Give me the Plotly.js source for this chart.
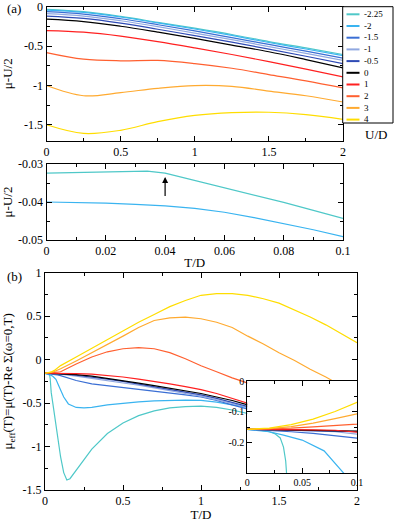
<!DOCTYPE html>
<html>
<head>
<meta charset="utf-8">
<script src="https://cdn.plot.ly/plotly-3.0.1.min.js"></script>
<style>
  html, body { margin: 0; padding: 0; background: #fff; }
  #chart { width: 399px; height: 522px; }
</style>
</head>
<body>
<div id="chart"></div>
<script>
// U/D values (legend) and their colours
var uLabels = ['-2.25', '-2', '-1.5', '-1', '-0.5', '0', '1', '2', '3', '4'];
var uColors = ['#4fc8c8', '#3ab4f0', '#3b6fd4', '#90a8e0', '#2f4bb5', '#000000', '#ff2020', '#ff6030', '#ffaa30', '#ffdd00'];

// panel (a) top: mu-U/2 vs T/D
var tA = [0, 0.25, 0.5, 0.75, 1.0, 1.25, 1.5, 1.75, 2.0];
var aUm225 = [-0.03, -0.06, -0.12, -0.195, -0.27, -0.35, -0.44, -0.52, -0.605];
var aUm2 = [-0.04, -0.068, -0.127, -0.203, -0.28, -0.362, -0.452, -0.535, -0.62];
var aUm15 = [-0.06, -0.09, -0.15, -0.225, -0.305, -0.39, -0.477, -0.563, -0.65];
var aUm1 = [-0.085, -0.115, -0.175, -0.25, -0.333, -0.415, -0.505, -0.59, -0.68];
var aUm05 = [-0.115, -0.145, -0.205, -0.283, -0.365, -0.447, -0.537, -0.627, -0.72];
var aU0 = [-0.155, -0.185, -0.245, -0.32, -0.40, -0.485, -0.57, -0.67, -0.775];
var aU1 = [-0.30, -0.32, -0.37, -0.44, -0.52, -0.605, -0.695, -0.79, -0.89];
var aU2 = [-0.58, -0.665, -0.685, -0.68, -0.72, -0.78, -0.86, -0.94, -1.03];
var aU3 = [-1.0, -1.13, -1.09, -1.035, -1.0, -1.01, -1.07, -1.13, -1.21];
var aU4 = [-1.5, -1.61, -1.57, -1.46, -1.38, -1.345, -1.34, -1.37, -1.43];

// panel (a) bottom: low T zoom for U/D = -2.25 and -2
var tB1 = [0, 0.01, 0.02, 0.03, 0.034, 0.04, 0.05, 0.06, 0.07, 0.08, 0.09, 0.1];
var bUm225 = [-0.0324, -0.0323, -0.0322, -0.032, -0.0319, -0.0324, -0.0343, -0.0362, -0.0381, -0.0401, -0.0422, -0.0443];
var tB2 = [0, 0.01, 0.02, 0.03, 0.04, 0.05, 0.06, 0.07, 0.08, 0.09, 0.1];
var bUm2 = [-0.04, -0.0401, -0.0403, -0.0406, -0.041, -0.0417, -0.0427, -0.0441, -0.0456, -0.0473, -0.0491];

// panel (b): mu_eff vs T/D
var tC = [0, 0.02, 0.04, 0.06, 0.08, 0.1, 0.2, 0.3, 0.4, 0.5, 0.6, 0.7, 0.8, 0.9, 1.0, 1.1, 1.2, 1.3, 1.4, 1.5, 1.6, 1.7, 1.8, 1.9, 2.0];
var cU4 = [-0.157, -0.153, -0.142, -0.124, -0.099, -0.069, 0.03, 0.13, 0.23, 0.33, 0.43, 0.52, 0.61, 0.68, 0.74, 0.76, 0.76, 0.74, 0.70, 0.65, 0.57, 0.49, 0.40, 0.30, 0.195];
var cU3 = [-0.157, -0.155, -0.148, -0.137, -0.122, -0.105, -0.015, 0.08, 0.17, 0.27, 0.37, 0.45, 0.48, 0.49, 0.47, 0.43, 0.37, 0.27, 0.18, 0.08, -0.01, -0.11, -0.20, -0.30, -0.39];
var cU2 = [-0.157, -0.156, -0.153, -0.149, -0.145, -0.14, -0.05, 0.03, 0.09, 0.125, 0.137, 0.125, 0.08, 0.01, -0.07, -0.14, -0.21, -0.27, -0.34, -0.41, -0.48, -0.54, -0.60, -0.66, -0.72];
var cU1 = [-0.157, -0.157, -0.158, -0.159, -0.16, -0.162, -0.162, -0.167, -0.18, -0.20, -0.225, -0.25, -0.28, -0.31, -0.345, -0.39, -0.445, -0.50, -0.56, -0.62, -0.67, -0.72, -0.77, -0.82, -0.87];
var cU0 = [-0.157, -0.158, -0.159, -0.16, -0.162, -0.163, -0.172, -0.19, -0.215, -0.24, -0.27, -0.30, -0.33, -0.36, -0.39, -0.43, -0.47, -0.52, -0.57, -0.62, -0.67, -0.72, -0.77, -0.82, -0.87];
var cUm05 = [-0.157, -0.158, -0.16, -0.161, -0.163, -0.165, -0.18, -0.20, -0.225, -0.25, -0.28, -0.31, -0.345, -0.375, -0.405, -0.445, -0.49, -0.535, -0.585, -0.635, -0.685, -0.735, -0.785, -0.835, -0.885];
var cUm1 = [-0.157, -0.158, -0.16, -0.162, -0.165, -0.168, -0.19, -0.215, -0.24, -0.265, -0.295, -0.325, -0.36, -0.39, -0.42, -0.46, -0.505, -0.55, -0.60, -0.65, -0.70, -0.75, -0.80, -0.85, -0.90];
var cUm15 = [-0.157, -0.16, -0.165, -0.17, -0.177, -0.184, -0.24, -0.28, -0.30, -0.32, -0.34, -0.36, -0.38, -0.405, -0.43, -0.47, -0.52, -0.57, -0.62, -0.67, -0.72, -0.77, -0.82, -0.87, -0.92];
var tD = [0, 0.02, 0.033, 0.05, 0.07, 0.088, 0.1, 0.12, 0.15, 0.2, 0.25, 0.3, 0.4, 0.5, 0.6, 0.7, 0.8, 0.9, 1.0, 1.1, 1.2, 1.3, 1.6, 2.0];
var cUm2 = [-0.157, -0.165, -0.176, -0.192, -0.227, -0.30, -0.35, -0.43, -0.51, -0.55, -0.555, -0.55, -0.52, -0.50, -0.485, -0.475, -0.468, -0.465, -0.47, -0.49, -0.52, -0.55, -0.65, -0.80];
var tE = [0, 0.01, 0.02, 0.025, 0.03, 0.033, 0.035, 0.036, 0.04, 0.05, 0.06, 0.08, 0.1, 0.12, 0.14, 0.16, 0.2, 0.25, 0.3, 0.4, 0.5, 0.6, 0.7, 0.8, 0.9, 1.0, 1.1, 1.2, 1.3, 1.6, 2.0];
var cUm225 = [-0.157, -0.159, -0.165, -0.171, -0.185, -0.215, -0.26, -0.31, -0.38, -0.50, -0.63, -0.88, -1.12, -1.30, -1.385, -1.37, -1.27, -1.15, -1.03, -0.85, -0.73, -0.645, -0.59, -0.555, -0.54, -0.535, -0.55, -0.58, -0.62, -0.74, -0.90];

var W = 399, H = 522;
function px(x) { return x / W; }
function py(y) { return 1 - y / H; }

var serif = 'Liberation Serif';

function line(x, y, color, xa, ya, shape) {
    return {
        x: x, y: y, xaxis: xa, yaxis: ya,
        mode: 'lines', type: 'scatter', hoverinfo: 'skip', showlegend: false,
        line: { color: color, width: 1.2, shape: shape || 'linear' }
    };
}

var data = [];
var aSeries = [aUm225, aUm2, aUm15, aUm1, aUm05, aU0, aU1, aU2, aU3, aU4];
aSeries.forEach(function (s, i) { data.push(line(tA, s, uColors[i], 'x', 'y', 'spline')); });

data.push(line(tB1, bUm225, uColors[0], 'x2', 'y2'));
data.push(line(tB2, bUm2, uColors[1], 'x2', 'y2'));

var cSeries = [
    [tE, cUm225], [tD, cUm2], [tC, cUm15], [tC, cUm1], [tC, cUm05],
    [tC, cU0], [tC, cU1], [tC, cU2], [tC, cU3], [tC, cU4]
];
cSeries.forEach(function (s, i) { data.push(line(s[0], s[1], uColors[i], 'x3', 'y3')); });
// inset: same curves, low T
cSeries.forEach(function (s, i) { data.push(line(s[0], s[1], uColors[i], 'x4', 'y4')); });

function axis(extra, fontSize, minorDtick) {
    var base = {
        showline: true, linecolor: '#000', linewidth: 1, mirror: 'allticks',
        ticks: 'inside', ticklen: 5, tickwidth: 1, tickcolor: '#000',
        showgrid: false, zeroline: false, fixedrange: true,
        tickmode: 'array',
        tickfont: { family: serif, size: fontSize || 12, color: '#000' },
        minor: { ticks: 'inside', ticklen: 3, tickwidth: 1, tickcolor: '#000', showgrid: false,
                 tickmode: 'linear', tick0: 0, dtick: minorDtick }
    };
    return Object.assign(base, extra);
}

var titleFont = { family: serif, size: 13, color: '#000' };

var layout = {
    width: W, height: H,
    margin: { l: 0, r: 0, t: 0, b: 0 },
    paper_bgcolor: '#fff', plot_bgcolor: '#fff',
    showlegend: false,
    xaxis: axis({ domain: [px(46.5), px(343)], range: [0, 2], anchor: 'y',
        tickvals: [0, 0.5, 1, 1.5, 2], ticktext: ['0', '0.5', '1', '1.5', '2'] }, 12, 0.25),
    yaxis: axis({ domain: [py(140.5), py(7)], range: [-1.7, 0], anchor: 'x',
        tickvals: [0, -0.5, -1, -1.5], ticktext: ['0', '-0.5', '-1', '-1.5'],
        title: { text: 'μ-U/2', font: titleFont } }, 12, 0.25),
    xaxis2: axis({ domain: [px(46.5), px(343)], range: [0, 0.1], anchor: 'y2',
        tickvals: [0, 0.02, 0.04, 0.06, 0.08, 0.1], ticktext: ['0', '0.02', '0.04', '0.06', '0.08', '0.1'],
        title: { text: 'T/D', font: titleFont, standoff: 0 } }, 12, 0.01),
    yaxis2: axis({ domain: [py(240), py(164)], range: [-0.05, -0.03], anchor: 'x2',
        tickvals: [-0.03, -0.04, -0.05], ticktext: ['-0.03', '-0.04', '-0.05'],
        title: { text: 'μ-U/2', font: titleFont } }, 12, 0.005),
    xaxis3: axis({ domain: [px(45), px(357)], range: [0, 2], anchor: 'y3',
        tickvals: [0, 0.5, 1, 1.5, 2], ticktext: ['0', '0.5', '1', '1.5', '2'],
        title: { text: 'T/D', font: titleFont } }, 12, 0.25),
    yaxis3: axis({ domain: [py(490), py(272.7)], range: [-1.5, 1], anchor: 'x3',
        tickvals: [1, 0.5, 0, -0.5, -1, -1.5], ticktext: ['1', '0.5', '0', '-0.5', '-1', '-1.5'],
        title: { text: 'μ<sub>eff</sub>(T)=μ(T)-Re Σ(ω=0,T)', font: titleFont } }, 12, 0.25),
    xaxis4: axis({ domain: [px(247.3), px(357)], range: [0, 0.1], anchor: 'y4',
        tickvals: [0, 0.05, 0.1], ticktext: ['0', '0.05', '0.1'] }, 10, 0.025),
    yaxis4: axis({ domain: [py(473.3), py(381)], range: [-0.3, 0], anchor: 'x4',
        tickvals: [0, -0.1, -0.2], ticktext: ['0', '-0.1', '-0.2'] }, 10, 0.05),
    annotations: [],
    shapes: []
};

// panel labels
layout.annotations.push({ xref: 'paper', yref: 'paper', x: px(14), y: py(8), text: '(a)', showarrow: false,
    font: { family: serif, size: 13, color: '#000' }, xanchor: 'center', yanchor: 'middle' });
layout.annotations.push({ xref: 'paper', yref: 'paper', x: px(14), y: py(276), text: '(b)', showarrow: false,
    font: { family: serif, size: 13, color: '#000' }, xanchor: 'center', yanchor: 'middle' });

// arrow marking the kink of the U/D=-2.25 curve
layout.annotations.push({ xref: 'x2', yref: 'y2', axref: 'x2', ayref: 'y2',
    x: 0.04, y: -0.0334, ax: 0.04, ay: -0.0388, text: '', showarrow: true,
    arrowhead: 2, arrowsize: 1, arrowwidth: 1.2, arrowcolor: '#000' });

// legend box, built from the U/D labels
var legTop = 14.3, legStep = 11.7;
layout.shapes.push({ type: 'rect', xref: 'paper', yref: 'paper',
    x0: px(342.7), x1: px(393), y0: py(123), y1: py(6.7),
    line: { color: '#000', width: 1 }, fillcolor: '#fff', layer: 'above' });
uLabels.forEach(function (lab, i) {
    var yy = legTop + legStep * i;
    layout.shapes.push({ type: 'line', xref: 'paper', yref: 'paper',
        x0: px(346.5), x1: px(359.5), y0: py(yy), y1: py(yy),
        line: { color: uColors[i], width: 2 }, layer: 'above' });
});
layout.annotations.push({ xref: 'paper', yref: 'paper', x: px(363), y: py(legTop - legStep / 2),
    text: uLabels.join('<br>'), showarrow: false, xanchor: 'left', yanchor: 'top', align: 'left',
    borderpad: 0, font: { family: serif, size: 9, color: '#000' } });
layout.annotations.push({ xref: 'paper', yref: 'paper', x: px(376), y: py(135), text: 'U/D',
    showarrow: false, xanchor: 'center', yanchor: 'middle', font: titleFont });

Plotly.newPlot('chart', data, layout, { displayModeBar: false, staticPlot: true });
</script>
</body>
</html>
